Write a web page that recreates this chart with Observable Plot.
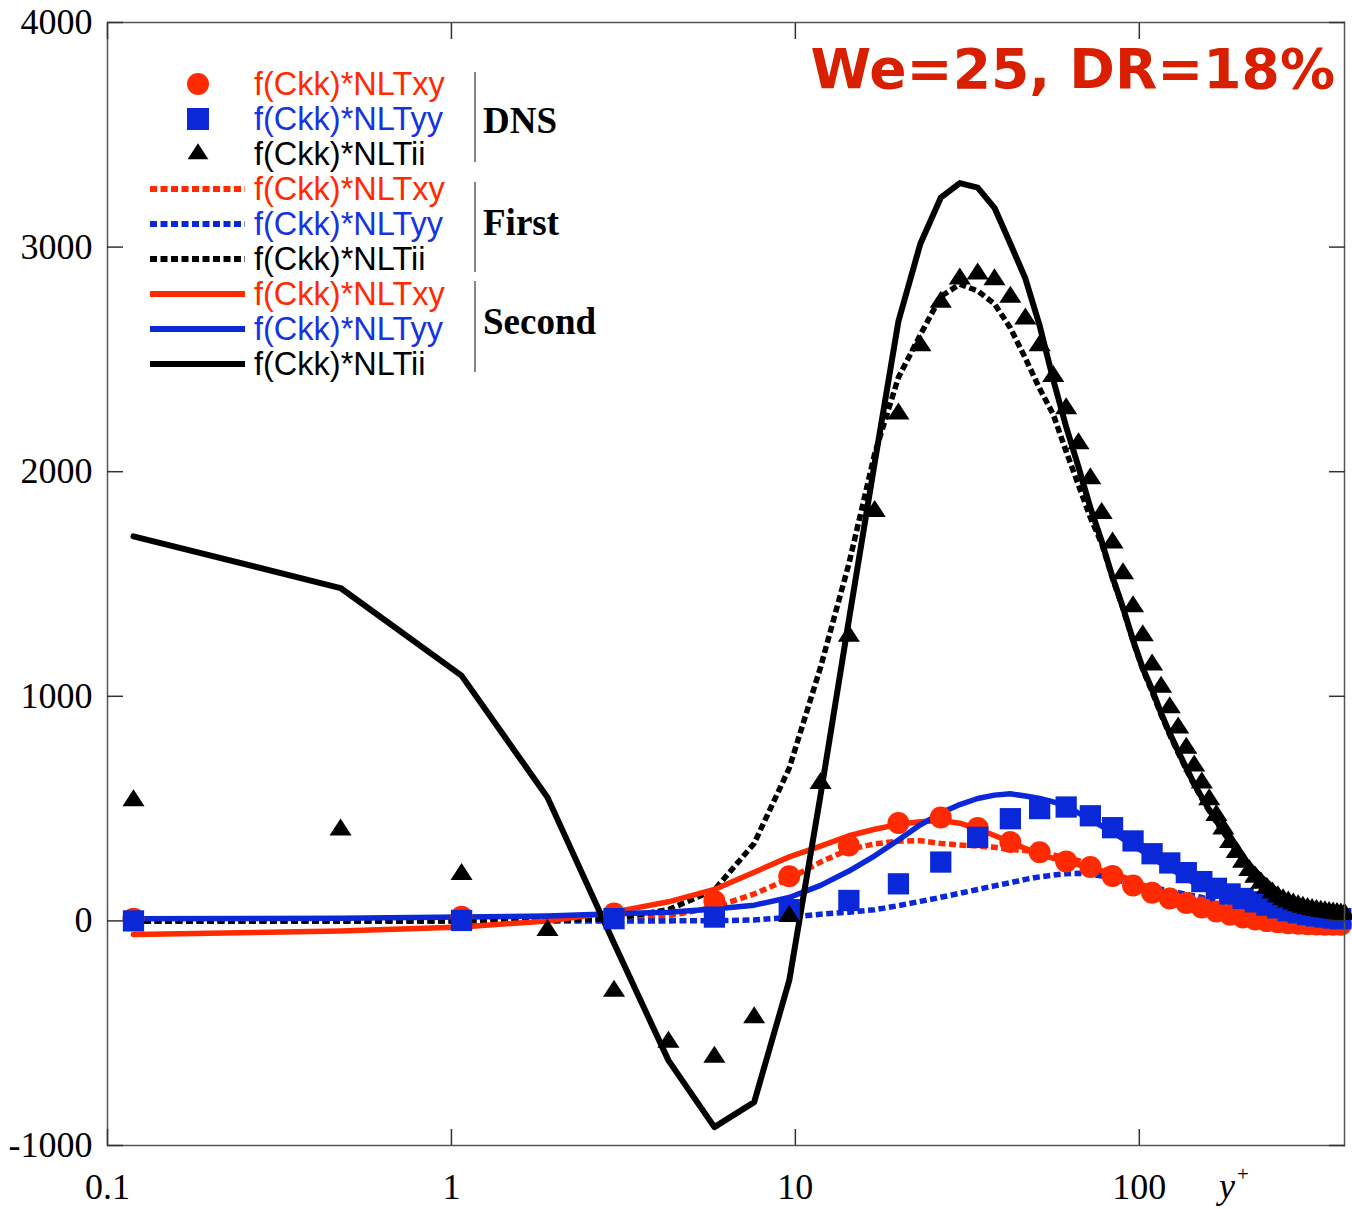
<!DOCTYPE html>
<html><head><meta charset="utf-8">
<script src="https://cdn.jsdelivr.net/npm/d3@7"></script>
<script src="https://cdn.jsdelivr.net/npm/@observablehq/plot@0.6"></script>
<style>
html,body{margin:0;padding:0;background:#fff;}
#chart{width:1352px;height:1209px;}
</style></head><body><div id="chart"></div>
<script>
// wall distance y+ of the grid points
const yPlus = [0.119,0.476,1.070,1.902,2.970,4.275,5.815,7.590,9.598,11.838,14.308,17.009,19.936,23.090,26.468,30.068,33.887,37.924,42.177,46.641,51.316,56.197,61.283,66.569,72.054,77.733,83.603,89.661,95.902,102.324,108.922,115.693,122.631,129.734,136.997,144.415,151.983,159.699,167.556,175.550,183.676,191.929,200.305,208.798,217.404,226.116,234.930,243.840,252.841,261.928,271.096,280.337,289.648,299.023,308.455,317.939,327.470,337.042,346.648,356.283,365.942,375.618,385.306,395.0];
// DNS markers for xy and yy are drawn at every other grid point
const yPlusDNS = yPlus.filter((_, i) => i % 2 === 0);

const dnsXY = [10,18,33,88,199,336,436,460,414,351,306,265,240,200,158,125,100,80,60,42,27,15,6,-1,-6,-10,-13,-15,-16,-17,-17,-17];
const dnsYY = [0,2,10,17,50,91,165,262,372,455,500,507,468,415,356,299,258,215,175,145,120,100,85,70,58,45,36,28,22,17,13,10];
const dnsII = [536,406,207,-42,-312,-540,-606,-431,20,613,1268,1824,2258,2562,2755,2859,2881,2855,2777,2681,2562,2425,2281,2125,1969,1815,1683,1546,1400,1270,1140,1041,950,860,770,690,615,540,470,410,350,305,262,225,195,168,145,125,108,95,85,76,68,62,56,52,47,44,41,38,36,34,32,30];

const firstXY = [0,0,2,5,10,22,61,120,188,262,318,343,355,357,345,338,333,328,318,313,304,294,280,268,250,232,214,196,178,160,142,128,114,101,89,78,68,58,49,41,34,27,21,16,11,7,3,0,-3,-5,-7,-9,-11,-12,-13,-14,-15,-16,-16,-17,-17,-17,-18,-18];
const firstYY = [0,0,0,0,0,0,1,4,16,30,39,50,68,87,105,123,140,156,170,185,196,204,210,212,208,200,188,176,165,156,148,141,134,126,118,111,104,96,88,80,73,66,60,54,48,43,38,33,28,23,19,14,10,6,2,-2,-5,-8,-11,-13,-15,-17,-18,-20];
const firstII = [0,0,0,3,10,50,138,345,680,1130,1590,2080,2420,2610,2780,2835,2805,2747,2640,2505,2370,2255,2090,1940,1796,1680,1525,1390,1245,1120,1020,918,828,748,674,605,545,490,440,395,351,312,277,247,219,193,170,149,129,113,99,87,77,69,62,57,52,48,44,41,38,36,34,33];

const secondXY = [-60,-45,-27,0,39,85,140,217,285,333,379,408,430,441,447,435,410,380,350,322,296,278,263,250,237,224,210,195,178,160,142,126,111,97,85,73,62,52,43,35,28,21,15,10,6,2,-1,-4,-6,-8,-10,-11,-12,-13,-14,-15,-15,-16,-16,-16,-17,-17,-17,-17];
const secondYY = [10,12,17,22,32,38,53,70,104,158,222,290,360,428,480,518,545,560,566,556,545,530,512,480,452,422,395,365,335,310,284,256,234,212,190,168,150,134,118,105,93,83,72,61,55,48,42,36,30,25,20,15,10,6,3,0,-2,-4,-6,-7,-8,-9,-10,-11];
const secondII = [1712,1482,1092,550,-100,-621,-918,-807,-265,560,1340,2040,2670,3015,3220,3285,3265,3175,3015,2860,2650,2410,2200,2020,1840,1690,1530,1395,1250,1125,1030,925,835,755,680,610,550,495,445,400,355,315,280,250,222,195,172,150,130,114,100,88,78,70,63,58,53,49,45,42,39,37,35,34];

const xTicks = [0.1, 1, 10, 100];
const yTicks = [-1000, 0, 1000, 2000, 3000, 4000];
const legendLabels = ["f(Ckk)*NLTxy", "f(Ckk)*NLTyy", "f(Ckk)*NLTii"];
const groupLabels = ["DNS", "First", "Second"];
const titleText = "We=25, DR=18%";

const RED = "#ff2a00", BLUE = "#0a28d8", BLACK = "#000000";
const TXTBLUE = "#1533e0";
const colors = [RED, BLUE, BLACK];
const textColors = [RED, TXTBLUE, BLACK];

const pts = (xs, ys) => xs.map((x, i) => ({x, y: ys[i]}));

// flattened triangle symbol
const flatTriangle = {
  draw(context, size) {
    const r = Math.sqrt(size / Math.PI);
    const w = 1.3 * r, h = 2 * r;
    context.moveTo(0, -2 * h / 3);
    context.lineTo(w, h / 3);
    context.lineTo(-w, h / 3);
    context.closePath();
  }
};

const DASH = "7 3.5";
const lineSpecs = [
  {ys: firstXY, stroke: RED, dashed: true, w: 5.5},
  {ys: firstYY, stroke: BLUE, dashed: true, w: 5.5},
  {ys: firstII, stroke: BLACK, dashed: true, w: 5.5},
  {ys: secondXY, stroke: RED, dashed: false, w: 5.5},
  {ys: secondYY, stroke: BLUE, dashed: false, w: 5.5},
  {ys: secondII, stroke: BLACK, dashed: false, w: 6}
];
const lineMarks = lineSpecs.map(d => Plot.line(pts(yPlus, d.ys), {
  x: "x", y: "y", stroke: d.stroke, strokeWidth: d.w,
  strokeDasharray: d.dashed ? DASH : undefined,
  strokeLinecap: d.dashed ? "butt" : "round", strokeLinejoin: "round"
}));

const svg = Plot.plot({
  width: 1352, height: 1209,
  marginLeft: 107, marginRight: 8, marginTop: 22, marginBottom: 64,
  style: {fontFamily: "'Liberation Serif', 'Times New Roman', serif", fontSize: "36px", background: "#fff", color: "#000"},
  x: {type: "log", domain: [0.1, 395]},
  y: {domain: [-1000, 4000]},
  marks: [
    ...lineMarks,
    Plot.dot(pts(yPlusDNS, dnsXY), {x: "x", y: "y", r: 11, fill: RED, stroke: null, symbol: "circle"}),
    Plot.dot(pts(yPlusDNS, dnsYY), {x: "x", y: "y", r: 12, fill: BLUE, stroke: null, symbol: "square"}),
    Plot.dot(pts(yPlus, dnsII), {x: "x", y: "y", r: 8.5, fill: BLACK, stroke: null, symbol: flatTriangle}),
    Plot.frame({stroke: "#555", strokeWidth: 1.5}),
    Plot.axisY({ticks: yTicks, tickSize: -16, tickPadding: 31, stroke: "#333", strokeWidth: 1.5,
      tickFormat: d => d < 0 ? "-" + Math.abs(d) : String(d), label: null}),
    Plot.axisY({anchor: "right", ticks: yTicks, tickSize: -16, stroke: "#333", strokeWidth: 1.5, tickFormat: () => "", label: null}),
    Plot.axisX({ticks: xTicks, tickSize: -16, tickPadding: 44, stroke: "#333", strokeWidth: 1.5,
      tickFormat: d => String(d), label: null}),
    Plot.axisX({anchor: "top", ticks: xTicks, tickSize: -16, stroke: "#333", strokeWidth: 1.5, tickFormat: () => "", label: null})
  ]
});
document.getElementById("chart").appendChild(svg);

const s = d3.select(svg);

// make sure the line styles (dashes, caps, widths) are applied on the line paths
s.selectAll('g[aria-label="line"]').each(function(_, i) {
  const spec = lineSpecs[i];
  if (!spec) return;
  d3.select(this).selectAll("path")
    .attr("stroke-width", spec.w)
    .attr("stroke-linecap", spec.dashed ? "butt" : "round")
    .attr("stroke-dasharray", spec.dashed ? DASH : null);
});

// axis name y+
const yl = s.append("text").attr("x", 1219).attr("y", 1198).attr("text-anchor", "start")
  .attr("font-family", "'Liberation Serif', serif").attr("font-size", 36).attr("font-style", "italic").attr("fill", "#000");
yl.append("tspan").text("y");
yl.append("tspan").attr("font-size", 21).attr("font-style", "normal").attr("dx", 2).attr("dy", -17).text("+");

// title
s.append("text").attr("x", 1335).attr("y", 88).attr("text-anchor", "end")
  .attr("font-family", "'DejaVu Sans', Verdana, sans-serif").attr("font-weight", "bold")
  .attr("font-size", 55).attr("fill", "#d82000").text(titleText);

// legend
const lg = s.append("g").attr("text-anchor", "start");
const rowY = i => 84 + i * 35;
const sepTop = [72, 182, 281], sepBot = [162, 272, 372], groupBase = [133, 235, 334];
for (let g = 0; g < 3; g++) {
  for (let k = 0; k < 3; k++) {
    const i = g * 3 + k, y = rowY(i);
    if (g === 0) {
      if (k === 0) lg.append("circle").attr("cx", 198).attr("cy", y).attr("r", 11).attr("fill", RED);
      if (k === 1) lg.append("rect").attr("x", 187).attr("y", y - 11).attr("width", 22).attr("height", 22).attr("fill", BLUE);
      if (k === 2) lg.append("path").attr("transform", `translate(198,${y})`)
        .attr("d", d3.symbol(flatTriangle, Math.PI * 64)()).attr("fill", BLACK);
    } else {
      lg.append("line").attr("x1", 150).attr("x2", 245).attr("y1", y).attr("y2", y)
        .attr("stroke", colors[k]).attr("stroke-width", 6)
        .attr("stroke-dasharray", g === 1 ? DASH : null);
    }
    lg.append("text").attr("x", 254).attr("y", y + 11).attr("text-anchor", "start")
      .attr("font-family", "'Liberation Sans', Arial, sans-serif").attr("font-size", 32.5)
      .attr("fill", textColors[k]).text(legendLabels[k]);
  }
  lg.append("line").attr("x1", 475).attr("x2", 475).attr("y1", sepTop[g]).attr("y2", sepBot[g])
    .attr("stroke", "#333").attr("stroke-width", 1.2);
  lg.append("text").attr("x", 483).attr("y", groupBase[g]).attr("text-anchor", "start")
    .attr("font-family", "'Liberation Serif', 'Times New Roman', serif").attr("font-weight", "bold")
    .attr("font-size", 37).attr("fill", "#000").text(groupLabels[g]);
}
</script>
</body></html>
